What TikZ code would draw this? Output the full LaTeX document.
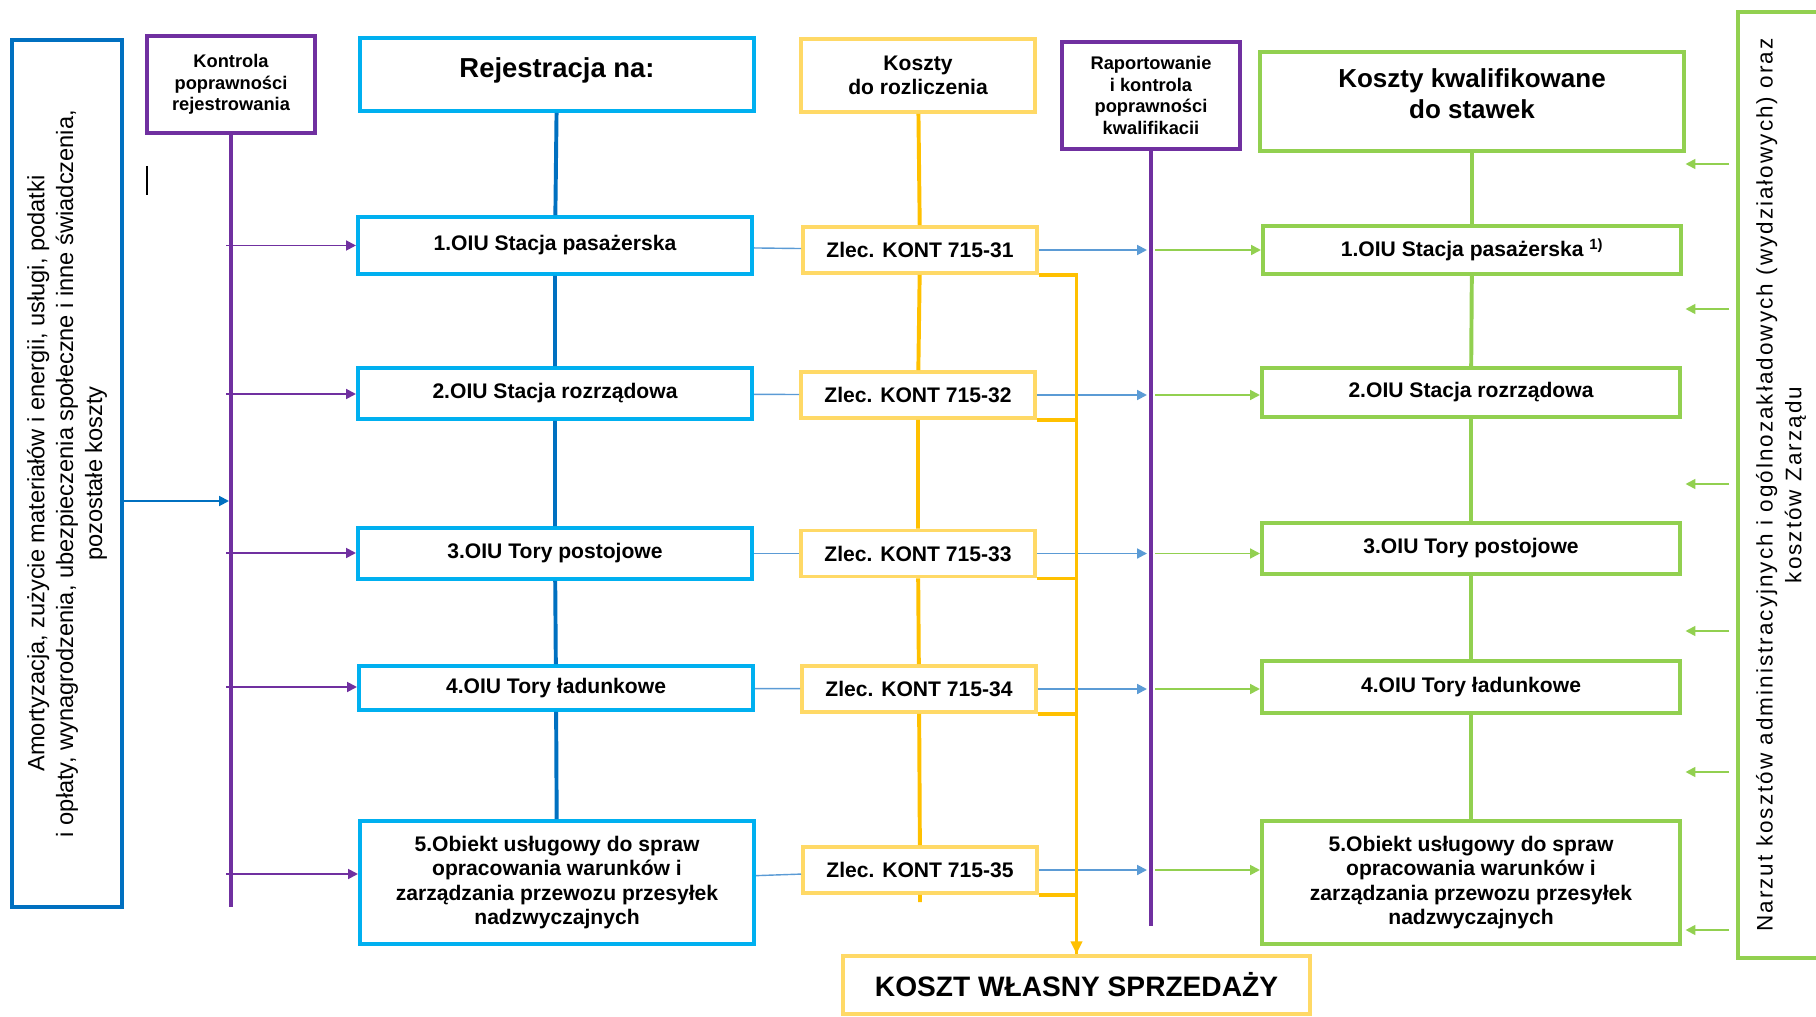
\documentclass[tikz,border=0pt]{standalone}
\usepackage{fontspec}
\setmainfont{Liberation Sans}
\usetikzlibrary{positioning, arrows.meta}

\definecolor{dblue}{HTML}{0070C0}
\definecolor{cblue}{HTML}{00B0F0}
\definecolor{lblue}{HTML}{5B9BD5}
\definecolor{purp}{HTML}{7030A0}
\definecolor{ygold}{HTML}{FFC000}
\definecolor{ylight}{HTML}{FFD966}
\definecolor{lgreen}{HTML}{92D050}

\begin{document}
\begin{tikzpicture}[x=0.025cm, y=-0.025cm,
		box/.style={draw, line width=2.8pt, align=center, inner sep=2pt, font=\fontsize{15}{17.5}\selectfont\bfseries},
		bbox/.style={box, draw=cblue, minimum width=9.85cm},
		zbox/.style={box, draw=ylight, minimum width=5.85cm, minimum height=1.15cm},
		gbox/.style={box, draw=lgreen, minimum width=10.45cm},
		pbox/.style={box, draw=purp, font=\fontsize{13}{15.3}\selectfont\bfseries},
		trunk/.style={line width=2.8pt},
		link/.style={line width=1pt, lblue},
		arr/.style={line width=1.4pt, -{Triangle[length=7pt,width=7pt]}}]
		\useasboundingbox (0,0) rectangle (1816,1017);

		% headers
		\node[box, draw=dblue, minimum width=2.75cm, minimum height=21.675cm] (am) at (67,473.5) {};
		\node[rotate=90, align=center, font=\fontsize{16.8}{20.5}\selectfont] (amtxt) at (am.center) {Amortyzacja, zużycie materiałów i energii, usługi, podatki\\ i opłaty, wynagrodzenia, ubezpieczenia społeczne i inne świadczenia,\\ pozostałe koszty};
		\node[pbox, minimum width=4.2cm, minimum height=2.425cm] (kon) at (231,84.5) {Kontrola\\poprawności\\rejestrowania};
		\node[box, draw=cblue, minimum width=9.85cm, minimum height=1.825cm, text depth=0.35cm, font=\fontsize{19.5}{22}\selectfont\bfseries] (rej) at (557,74.5) {Rejestracja na:};
		\node[box, draw=ylight, minimum width=5.85cm, minimum height=1.825cm] (kr) at (918,75.5) {Koszty\\do rozliczenia};
		\node[pbox, minimum width=4.45cm, minimum height=2.675cm] (rap) at (1151,95.5) {Raportowanie\\i kontrola\\poprawności\\kwalifikacii};
		\node[box, draw=lgreen, minimum width=10.575cm, minimum height=2.475cm, text depth=0.4cm, font=\fontsize{18.5}{21.5}\selectfont\bfseries] (kk) at (1472,101.5) {Koszty kwalifikowane\\do stawek};
		\node[box, draw=lgreen, minimum width=2.15cm, minimum height=23.65cm] (nar) at (1781,485) {};
		\node[rotate=90, align=center, font=\fontsize{16}{20.5}\selectfont\addfontfeatures{LetterSpace=9}] (nartxt) at (nar.center) {Narzut kosztów administracyjnych i ogólnozakładowych (wydziałowych) oraz\\ kosztów Zarządu};

		% rows
		\node[bbox, minimum height=1.425cm] (b1) at (555,245.5) {1.OIU Stacja pasażerska};
		\node[bbox, minimum height=1.275cm] (b2) at (555,393.5) {2.OIU Stacja rozrządowa};
		\node[bbox, minimum height=1.275cm] (b3) at (555,553.5) {3.OIU Tory postojowe};
		\node[bbox, minimum height=1.1cm] (b4) at (556,688) {4.OIU Tory ładunkowe};
		\node[bbox, minimum height=3.075cm] (b5) at (557,882.5) {5.Obiekt usługowy do spraw\\opracowania warunków i\\zarządzania przewozu przesyłek\\nadzwyczajnych};

		\node[zbox] (z1) at (920,250) {Zlec. KONT 715-31};
		\node[zbox] (z2) at (918,395) {Zlec. KONT 715-32};
		\node[zbox] (z3) at (918,553.5) {Zlec. KONT 715-33};
		\node[zbox] (z4) at (919,689) {Zlec. KONT 715-34};
		\node[zbox] (z5) at (920,870) {Zlec. KONT 715-35};

		\node[gbox, minimum height=1.2cm] (g1) at (1472,250) {1.OIU Stacja pasażerska \textsuperscript{1)}};
		\node[gbox, minimum height=1.225cm] (g2) at (1471,392.5) {2.OIU Stacja rozrządowa};
		\node[gbox, minimum height=1.275cm] (g3) at (1471,548.5) {3.OIU Tory postojowe};
		\node[gbox, minimum height=1.3cm] (g4) at (1471,687) {4.OIU Tory ładunkowe};
		\node[gbox, minimum height=3.075cm] (g5) at (1471,882.5) {5.Obiekt usługowy do spraw\\opracowania warunków i\\zarządzania przewozu przesyłek\\nadzwyczajnych};

		\node[box, draw=ylight, minimum width=11.675cm, minimum height=1.45cm, font=\fontsize{20}{24}\selectfont\bfseries] (ksp) at (1076.5,985) {KOSZT WŁASNY SPRZEDAŻY};

		% free ends
		\coordinate (kbot) at (231,907);
		\coordinate (rbot) at (1151,926);
		\coordinate (zbot) at (920,902);
		\coordinate (kin) at (229,501);
		\coordinate (cur1) at (147,166);
		\coordinate (cur2) at (147,195);

		% trunks
		\draw[trunk, purp] (kon) -- (kbot);
		\draw[trunk, purp] (rap) -- (rbot);
		\draw[trunk, dblue] (rej) -- (b1) -- (b2) -- (b3) -- (b4) -- (b5);
		\draw[trunk, ygold] (kr) -- (z1) -- (z2) -- (z3) -- (z4) -- (z5) -- (zbot);
		\draw[trunk, lgreen] (kk) -- (g1) -- (g2) -- (g3) -- (g4) -- (g5);
		\draw[line width=0.8pt] (cur1) -- (cur2);

		% input
		\draw[arr, dblue] (am.east |- kin) -- (kin);

		% registration
		\foreach \y [count=\i] in {245.5,394,553,687,874}{
			\coordinate (kp\i) at (226,\y);
			\draw[arr, purp] (kp\i) -- (kp\i -| b\i.west);
		}
		\draw[link] (b1) -- (z1);
		\draw[link] (b2) -- (z2);
		\draw[link] (b3) -- (z3);
		\draw[link] (b4) -- (z4);
		\draw[link] (b5) -- (z5);

		% reporting
		\foreach \y [count=\i] in {250,395,553.5,689,870}{
			\coordinate (pa\i) at (1147,\y);
			\coordinate (pb\i) at (1155,\y);
			\draw[arr, lblue] (z\i) -- (pa\i);
			\draw[arr, lgreen] (pb\i) -- (pb\i -| g\i.west);
		}

		% cost of sales
		\draw[trunk, ygold, -{Triangle[length=9pt,width=8pt]}] (z1.south east) -| (ksp.north);
		\draw[trunk, ygold] (z2.south east) -| (ksp.north);
		\draw[trunk, ygold] (z3.south east) -| (ksp.north);
		\draw[trunk, ygold] (z4.south east) -| (ksp.north);
		\draw[trunk, ygold] (z5.south east) -| (ksp.north);

		% overheads
		\foreach \y [count=\i] in {164,309,484,631,772,930}{
			\coordinate (na\i) at (1729,\y);
			\draw[arr, lgreen] (na\i) -- (na\i -| kk.east);
		}
	\end{tikzpicture}
\end{document}
